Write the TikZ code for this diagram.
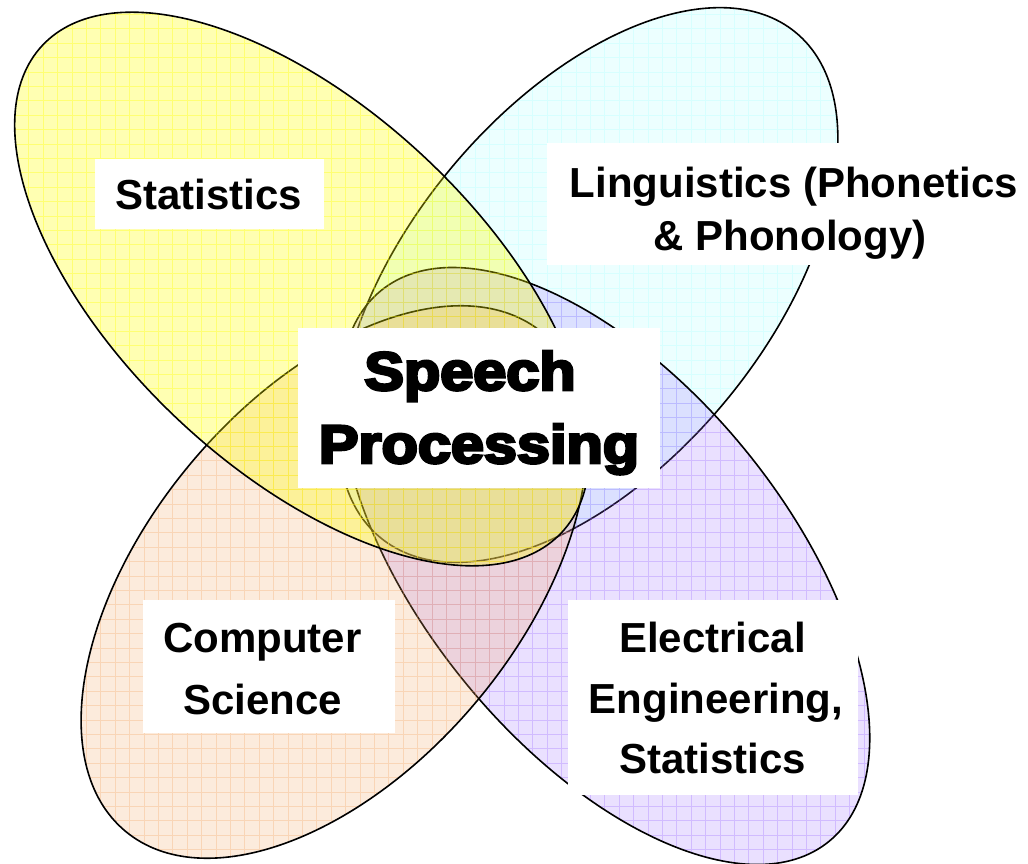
\documentclass[tikz,border=0pt]{standalone}
\usepackage{fontspec}
\newfontfamily\labelfont{Liberation Sans}
\newfontfamily\heavyfont{Liberation Sans}[BoldFeatures={FakeBold=5}]
\definecolor{cyanbase}{HTML}{99FFFF}
\definecolor{purplebase}{HTML}{9966FF}
\definecolor{orangebase}{HTML}{F4A460}
\definecolor{yellowbase}{HTML}{FFFF00}
\newcommand\drawpetal[8]{%
  \begin{scope}
    \clip[rotate around={#3:(#1,#2)}] (#1,#2) ellipse [x radius=#4, y radius=#5];
    \fill[#6, fill opacity=#7] (0,0) rectangle (1028,864);
    \draw[#6, opacity=#8, line width=0.8pt, step=14.4pt] (0,864) grid (1028,0);
  \end{scope}
  \draw[petal, rotate around={#3:(#1,#2)}] (#1,#2) ellipse [x radius=#4, y radius=#5];
}
\begin{document}
\begin{tikzpicture}[x=1pt,y=-1pt,
  petal/.style={draw=black, line width=1.6pt},
  lbl/.style={font=\labelfont\bfseries\fontsize{42}{48}\selectfont, inner sep=0pt, anchor=base},
  heavy/.style={font=\heavyfont\bfseries\fontsize{54}{60}\selectfont, inner sep=0pt, anchor=base},
  labelbox/.style={fill=white}]
\useasboundingbox (0,0) rectangle (1028,864);
\fill[white] (0,0) rectangle (1028,864);
% petals: cyan, purple, orange, yellow (bottom to top)
\drawpetal{588}{285}{50.6}{327}{180}{cyanbase}{0.18}{0.25}
\drawpetal{605}{566}{-50.9}{355}{182}{purplebase}{0.2}{0.3}
\drawpetal{334}{582}{50}{325}{186}{orangebase}{0.22}{0.3}
\drawpetal{302}{289}{-43.2}{356}{180}{yellowbase}{0.3}{0.35}
% label boxes
\fill[labelbox] (95,159) rectangle (324,229);
\fill[labelbox] (547,143) rectangle (1028,265);
\fill[labelbox] (143,600) rectangle (395,733);
\fill[labelbox] (568,600) rectangle (858,795);
\fill[labelbox] (298,328) rectangle (660,488);
% labels
\node[lbl] (stat) at (208.5,209) {Statistics};
\node[lbl] (ling1) at (794,197) {Linguistics (Phonetics};
\node[lbl] (ling2) at (790,250) {\& Phonology)};
\node[lbl] (cs1) at (262.5,652) {Computer};
\node[lbl] (cs2) at (262.5,714) {Science};
\node[lbl] (ee1) at (712.5,652) {Electrical};
\node[lbl] (ee2) at (716,713) {Engineering,};
\node[lbl] (ee3) at (712.5,773) {Statistics};
\node[heavy] (sp1) at (470,390) {\scalebox{1.1}[1]{Speech}};
\node[heavy] (sp2) at (479,463) {\scalebox{1.1}[1]{Processing}};
\end{tikzpicture}
\end{document}
